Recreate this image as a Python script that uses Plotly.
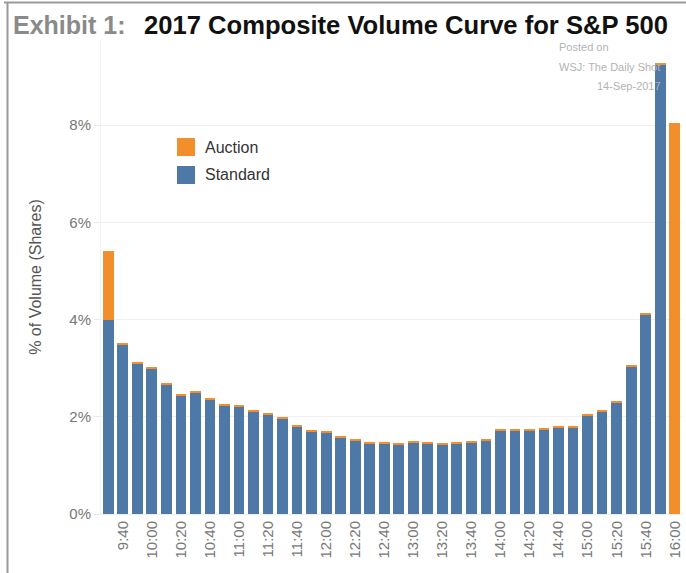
import plotly.graph_objects as go

times = ["9:30", "9:40", "9:50", "10:00", "10:10", "10:20", "10:30", "10:40", "10:50",
         "11:00", "11:10", "11:20", "11:30", "11:40", "11:50",
         "12:00", "12:10", "12:20", "12:30", "12:40", "12:50",
         "13:00", "13:10", "13:20", "13:30", "13:40", "13:50",
         "14:00", "14:10", "14:20", "14:30", "14:40", "14:50",
         "15:00", "15:10", "15:20", "15:30", "15:40", "15:50", "16:00"]

standard = [4.00, 3.48, 3.09, 3.00, 2.67, 2.44, 2.50, 2.35, 2.24,
            2.22, 2.10, 2.05, 1.96, 1.79, 1.70,
            1.68, 1.57, 1.51, 1.46, 1.46, 1.42,
            1.48, 1.46, 1.42, 1.46, 1.48, 1.51,
            1.71, 1.71, 1.71, 1.74, 1.77, 1.77,
            2.02, 2.10, 2.30, 3.04, 4.11, 9.25, 0.0]

auction = [1.42, 0.03, 0.03, 0.03, 0.03, 0.03, 0.03, 0.03, 0.03,
           0.03, 0.03, 0.03, 0.03, 0.03, 0.03,
           0.03, 0.03, 0.03, 0.03, 0.03, 0.03,
           0.03, 0.03, 0.03, 0.03, 0.03, 0.03,
           0.03, 0.03, 0.03, 0.03, 0.03, 0.03,
           0.03, 0.03, 0.03, 0.03, 0.03, 0.03, 8.05]

tick_labels = ["9:40", "10:00", "10:20", "10:40", "11:00", "11:20", "11:40", "12:00",
               "12:20", "12:40", "13:00", "13:20", "13:40", "14:00", "14:20", "14:40",
               "15:00", "15:20", "15:40", "16:00"]

y_ticks = [0, 2, 4, 6, 8]
y_tick_text = ["0%", "2%", "4%", "6%", "8%"]

BLUE = "#4E79A7"
ORANGE = "#F28E2B"
FONT = "Liberation Sans, Arial, sans-serif"

W, H = 686, 573
L, R, T, B = 101, 4, 40, 59
PW, PH = W - L - R, H - T - B


def px(x):
    return (x - L) / PW


def py(y):
    return (H - B - y) / PH


fig = go.Figure()
fig.add_trace(go.Bar(x=times, y=standard, name="Standard", marker=dict(color=BLUE, line=dict(width=0)),
                     showlegend=False))
fig.add_trace(go.Bar(x=times, y=auction, name="Auction", marker=dict(color=ORANGE, line=dict(width=0)),
                     showlegend=False))

shapes = [
    # outer frame
    dict(type="line", xref="paper", yref="paper", x0=px(4), x1=px(686), y0=py(2.5), y1=py(2.5),
         line=dict(color="#9a9a9a", width=2)),
    dict(type="line", xref="paper", yref="paper", x0=px(7.5), x1=px(7.5), y0=py(2), y1=py(573),
         line=dict(color="#9a9a9a", width=2)),
    # legend swatches
    dict(type="rect", xref="paper", yref="paper", x0=px(177), x1=px(195), y0=py(138), y1=py(156),
         fillcolor=ORANGE, line=dict(width=0)),
    dict(type="rect", xref="paper", yref="paper", x0=px(177), x1=px(195), y0=py(166), y1=py(184),
         fillcolor=BLUE, line=dict(width=0)),
]

annotations = [
    dict(text="<b>Exhibit 1:</b>", xref="paper", yref="paper", x=px(11), y=py(25), xanchor="left",
         yanchor="middle", showarrow=False, font=dict(family=FONT, size=25, color="#8a8a8a")),
    dict(text="<b>2017 Composite Volume Curve for S&P 500</b>", xref="paper", yref="paper", x=px(142), y=py(25),
         xanchor="left", yanchor="middle", showarrow=False, font=dict(family=FONT, size=25.6, color="#111111")),
    dict(text="Posted on", xref="paper", yref="paper", x=px(557), y=py(47), xanchor="left", yanchor="middle",
         showarrow=False, font=dict(family=FONT, size=11, color="#b3b3b3")),
    dict(text="WSJ: The Daily Shot", xref="paper", yref="paper", x=px(557), y=py(67), xanchor="left",
         yanchor="middle", showarrow=False, font=dict(family=FONT, size=11, color="#b3b3b3")),
    dict(text="14-Sep-2017", xref="paper", yref="paper", x=px(595), y=py(86), xanchor="left", yanchor="middle",
         showarrow=False, font=dict(family=FONT, size=11, color="#b3b3b3")),
    dict(text="Auction", xref="paper", yref="paper", x=px(203), y=py(147), xanchor="left", yanchor="middle",
         showarrow=False, font=dict(family=FONT, size=16, color="#333333")),
    dict(text="Standard", xref="paper", yref="paper", x=px(203), y=py(175), xanchor="left", yanchor="middle",
         showarrow=False, font=dict(family=FONT, size=16, color="#333333")),
]

fig.update_layout(
    width=W, height=H,
    margin=dict(l=L, r=R, t=T, b=B, pad=0),
    barmode="stack",
    bargap=0.26,
    plot_bgcolor="white",
    paper_bgcolor="white",
    font=dict(family=FONT, color="#777777"),
    showlegend=False,
    shapes=shapes,
    annotations=annotations,
    xaxis=dict(
        type="category",
        categoryorder="array", categoryarray=times,
        range=[-0.5, len(times) - 0.5],
        tickmode="array", tickvals=tick_labels, ticktext=tick_labels,
        tickangle=-90,
        tickfont=dict(size=15, color="#777777"),
        showgrid=False, zeroline=False,
        showline=True, linecolor="#eeeeee", linewidth=1,
        ticks="",
    ),
    yaxis=dict(
        range=[0, 9.75],
        tickmode="array", tickvals=y_ticks, ticktext=y_tick_text,
        tickfont=dict(size=15, color="#777777"),
        showgrid=True, gridcolor="#efefef", gridwidth=1,
        zeroline=False,
        showline=True, linecolor="#f2f2f2", linewidth=1,
        ticks="outside", ticklen=6, tickcolor="#e8e8e8",
        title=dict(text="% of Volume (Shares)", font=dict(size=16, color="#555555"), standoff=23),
    ),
)

fig.write_html("out.html")
